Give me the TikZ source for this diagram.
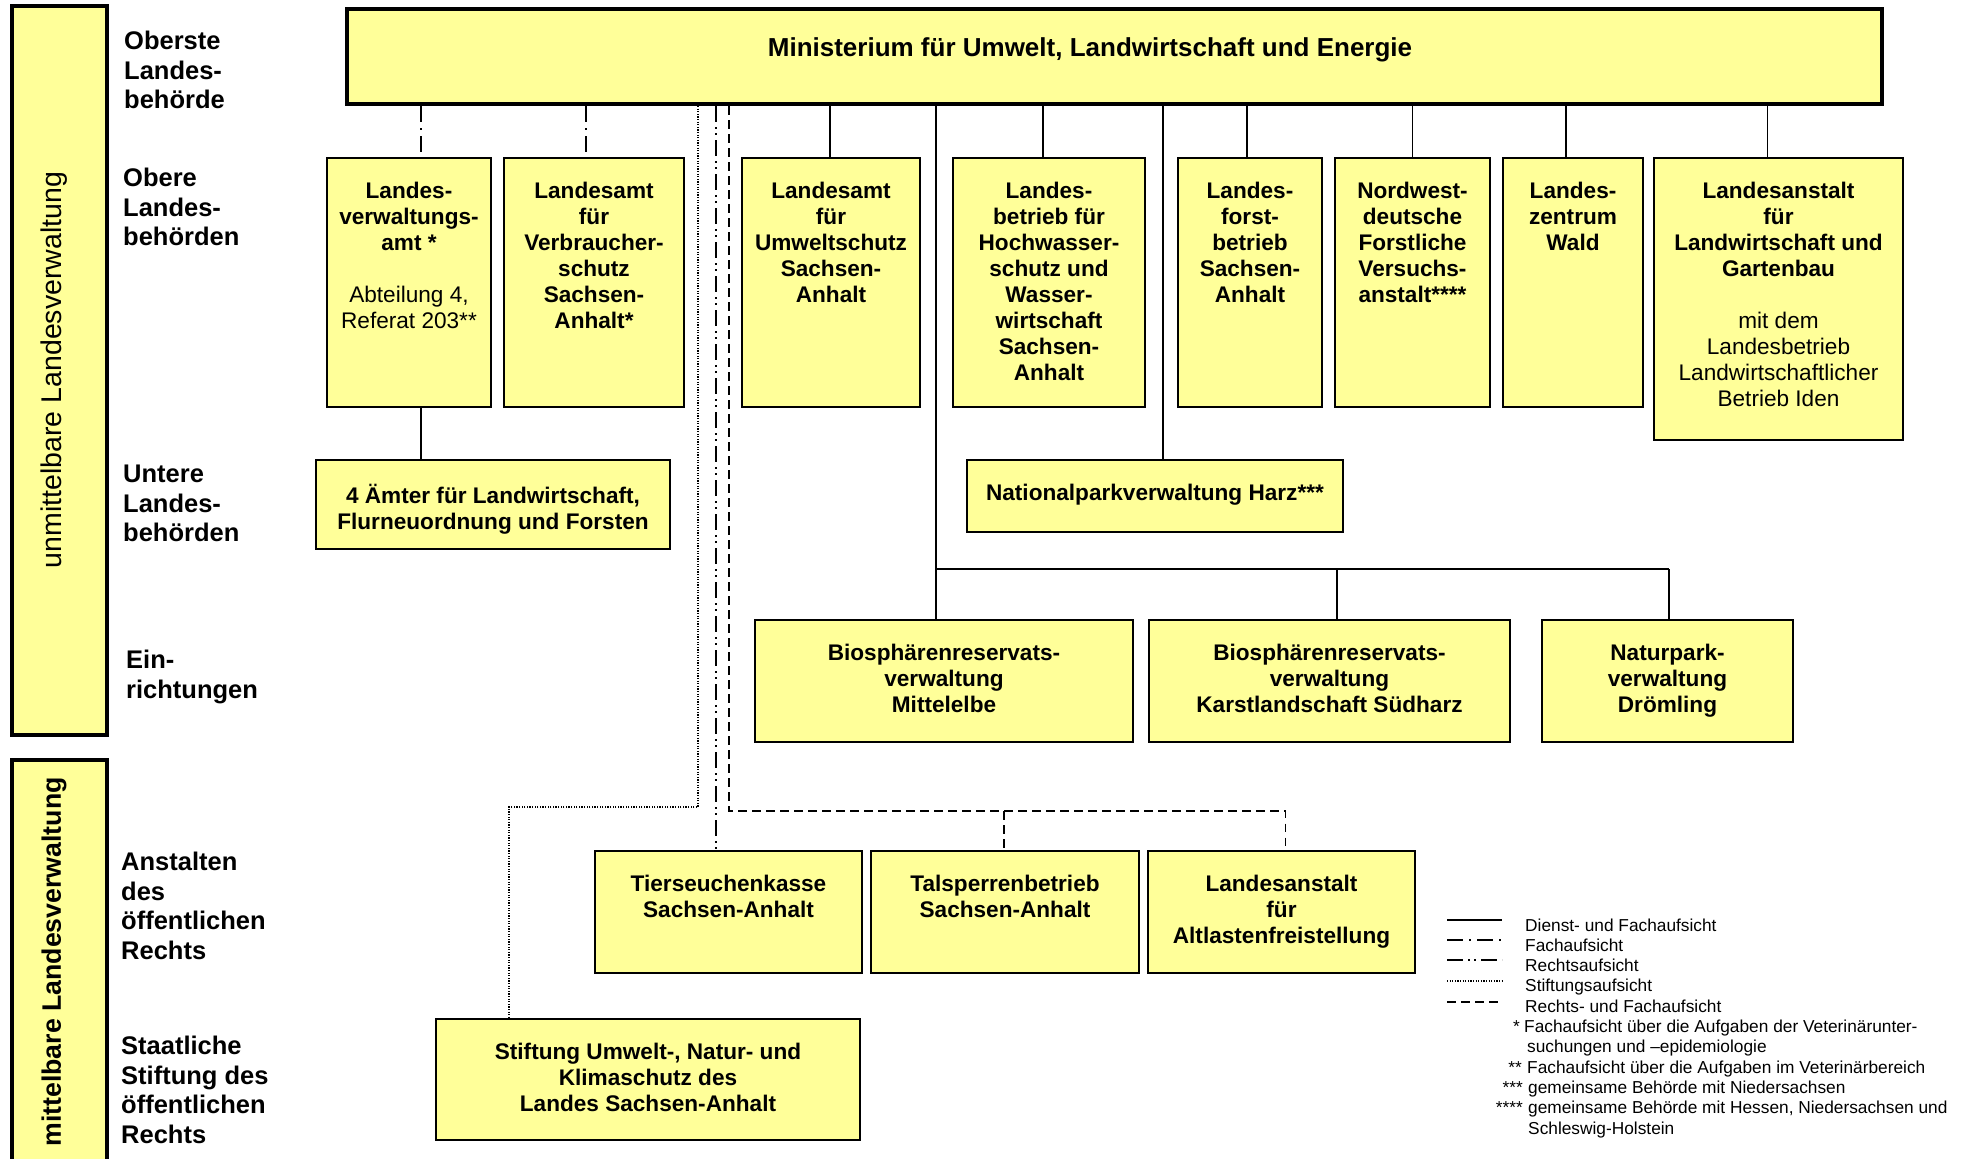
\documentclass[tikz,border=0pt]{standalone}
\usepackage{fontspec}
\setmainfont{Liberation Sans}
\usetikzlibrary{fit,calc}
\definecolor{boxyellow}{HTML}{FFFF99}
\begin{document}
\begin{tikzpicture}[x=1pt,y=-1pt,
  box/.style={draw=black, fill=boxyellow, line width=1.8pt, inner sep=0pt},
  bigbox/.style={draw=black, fill=boxyellow, line width=4pt, inner sep=0pt},
  tx/.style={inner sep=0pt, align=center, anchor=north, font=\fontsize{22.6}{26}\selectfont\bfseries},
  rowlab/.style={inner sep=0pt, align=left, anchor=north west, font=\fontsize{25.5}{29.5}\selectfont\bfseries},
  lgd/.style={inner sep=0pt, anchor=base west, font=\fontsize{17.3}{20}\selectfont},
  lgs/.style={inner sep=0pt, anchor=base east, font=\fontsize{17.3}{20}\selectfont},
  solidc/.style={line width=1.4pt},
  fach/.style={line width=1.4pt, dash pattern=on 16pt off 6pt on 2pt off 6pt},
  recht/.style={line width=1.4pt, dash pattern=on 16pt off 5pt on 2pt off 4pt on 2pt off 5pt},
  stift/.style={line width=1.2pt, dash pattern=on 1.2pt off 1.4pt},
  rf/.style={line width=1.4pt, dash pattern=on 8.5pt off 5.5pt},
]
\path[use as bounding box, fill=white] (0,0) rectangle (1971,1159);

% side bars
\node[bigbox, fit={(12,6) (107,735)}] (unm) {};
\node[rotate=90, inner sep=0pt, font=\fontsize{28.5}{30}\selectfont] (unmT) at (54,370) {unmittelbare Landesverwaltung};
\node[bigbox, fit={(12,760) (107,1180)}] (mit) {};
\node[rotate=90, inner sep=0pt, font=\fontsize{26.7}{30}\selectfont\bfseries] (mitT) at (54,962) {mittelbare Landesverwaltung};

% row labels
\node[rowlab] (r1) at (124,31) {Oberste\\Landes-\\behörde};
\node[rowlab] (r2) at (123,168) {Obere\\Landes-\\behörden};
\node[rowlab] (r3) at (123,465) {Untere\\Landes-\\behörden};
\node[rowlab] (r4) at (126,650) {Ein-\\richtungen};
\node[rowlab] (r5) at (121,852) {Anstalten\\des\\öffentlichen\\Rechts};
\node[rowlab] (r6) at (121,1036) {Staatliche\\Stiftung des\\öffentlichen\\Rechts};

% ministry
\node[bigbox, fit={(347,9) (1882,104)}] (mini) {};
\node[tx, font=\fontsize{26}{30}\selectfont\bfseries] (miniT) at (1090,37) {Ministerium für Umwelt, Landwirtschaft und Energie};

% obere landesbehoerden
\node[box, fit={(327,158) (491,407)}] (lva) {};
\node[tx] (lvaT) at ([yshift=-25pt]lva.north) {Landes-\\verwaltungs-\\amt *\\[26pt]\mdseries Abteilung 4,\\\mdseries Referat 203**};
\node[box, fit={(504,158) (684,407)}] (lav) {};
\node[tx] (lavT) at ([yshift=-25pt]lav.north) {Landesamt\\für\\Verbraucher-\\schutz\\Sachsen-\\Anhalt*};
\node[box, fit={(742,158) (920,407)}] (lau) {};
\node[tx] (lauT) at ([yshift=-25pt]lau.north) {Landesamt\\für\\Umweltschutz\\Sachsen-\\Anhalt};
\node[box, fit={(953,158) (1145,407)}] (lhw) {};
\node[tx] (lhwT) at ([yshift=-25pt]lhw.north) {Landes-\\betrieb für\\Hochwasser-\\schutz und\\Wasser-\\wirtschaft\\Sachsen-\\Anhalt};
\node[box, fit={(1178,158) (1322,407)}] (lfb) {};
\node[tx] (lfbT) at ([yshift=-25pt]lfb.north) {Landes-\\forst-\\betrieb\\Sachsen-\\Anhalt};
\node[box, fit={(1335,158) (1490,407)}] (nwf) {};
\node[tx] (nwfT) at ([yshift=-25pt]nwf.north) {Nordwest-\\deutsche\\Forstliche\\Versuchs-\\anstalt****};
\node[box, fit={(1503,158) (1643,407)}] (lzw) {};
\node[tx] (lzwT) at ([yshift=-25pt]lzw.north) {Landes-\\zentrum\\Wald};
\node[box, fit={(1654,158) (1903,440)}] (llg) {};
\node[tx] (llgT) at ([yshift=-25pt]llg.north) {Landesanstalt\\für\\Landwirtschaft und\\Gartenbau\\[26pt]\mdseries mit dem\\\mdseries Landesbetrieb\\\mdseries Landwirtschaftlicher\\\mdseries Betrieb Iden};

% untere
\node[box, fit={(316,460) (670,549)}] (alf) {};
\node[tx] (alfT) at ([yshift=-25pt]alf.north) {4 Ämter für Landwirtschaft,\\Flurneuordnung und Forsten};
\node[box, fit={(967,460) (1343,532)}] (npv) {};
\node[tx] (npvT) at ([yshift=-25pt]npv.north) {Nationalparkverwaltung Harz***};

% einrichtungen
\node[box, fit={(755,620) (1133,742)}] (bio1) {};
\node[tx] (bio1T) at ([yshift=-25pt]bio1.north) {Biosphärenreservats-\\verwaltung\\Mittelelbe};
\node[box, fit={(1149,620) (1510,742)}] (bio2) {};
\node[tx] (bio2T) at ([yshift=-25pt]bio2.north) {Biosphärenreservats-\\verwaltung\\Karstlandschaft Südharz};
\node[box, fit={(1542,620) (1793,742)}] (npd) {};
\node[tx] (npdT) at ([yshift=-25pt]npd.north) {Naturpark-\\verwaltung\\Drömling};

% anstalten
\node[box, fit={(595,851) (862,973)}] (tsk) {};
\node[tx] (tskT) at ([yshift=-25pt]tsk.north) {Tierseuchenkasse\\Sachsen-Anhalt};
\node[box, fit={(871,851) (1139,973)}] (tsb) {};
\node[tx] (tsbT) at ([yshift=-25pt]tsb.north) {Talsperrenbetrieb\\Sachsen-Anhalt};
\node[box, fit={(1148,851) (1415,973)}] (laf) {};
\node[tx] (lafT) at ([yshift=-25pt]laf.north) {Landesanstalt\\für\\Altlastenfreistellung};

% stiftung
\node[box, fit={(436,1019) (860,1140)}] (sun) {};
\node[tx] (sunT) at ([yshift=-25pt]sun.north) {Stiftung Umwelt-, Natur- und\\Klimaschutz des\\Landes Sachsen-Anhalt};

% connectors: Fachaufsicht
\draw[fach] ([xshift=12pt]lva.north |- mini.south) -- ([xshift=12pt]lva.north);
\draw[fach] ([xshift=-8pt]lav.north |- mini.south) -- ([xshift=-8pt]lav.north);
% Dienst- und Fachaufsicht
\draw[solidc] ([xshift=12pt]lva.south) -- ([xshift=12pt]lva.south |- alf.north);
\draw[solidc] ([xshift=-1pt]lau.north |- mini.south) -- ([xshift=-1pt]lau.north);
\draw[solidc] ([xshift=-6pt]lhw.north |- mini.south) -- ([xshift=-6pt]lhw.north);
\draw[solidc] ([xshift=-3pt]lfb.north |- mini.south) -- ([xshift=-3pt]lfb.north);
\draw[solidc] (nwf.north |- mini.south) -- (nwf.north);
\draw[solidc] ([xshift=-7pt]lzw.north |- mini.south) -- ([xshift=-7pt]lzw.north);
\draw[solidc] ([xshift=-11pt]llg.north |- mini.south) -- ([xshift=-11pt]llg.north);
\draw[solidc] ([xshift=8pt]npv.north |- mini.south) -- ([xshift=8pt]npv.north);
\coordinate (jb) at (936,569);
\coordinate (je) at (1669,569);
\draw[solidc] (jb |- mini.south) -- (jb |- bio1.north);
\draw[solidc, line width=1.8pt] (jb) -- (je);
\draw[solidc] (bio2.north -| 1337,0) -- (jb -| 1337,0);
\draw[solidc] (je) -- (je |- npd.north);
% Stiftungsaufsicht
\coordinate (sa) at (698,807);
\coordinate (sb) at (509,807);
\draw[stift] (sa |- mini.south) -- (sa) -- (sb) -- (sb |- sun.north);
% Rechtsaufsicht
\coordinate (ra) at (716,500);
\draw[recht] (ra |- mini.south) -- (ra |- tsk.north);
% Rechts- und Fachaufsicht
\coordinate (da) at (729,811);
\draw[rf] (da |- mini.south) -- (da) -- ([xshift=4pt]laf.north |- da) -- ([xshift=4pt]laf.north);
\draw[rf] ([xshift=-1pt]tsb.north |- da) -- ([xshift=-1pt]tsb.north);

% legend
\coordinate (l1a) at (1447,920); \coordinate (l1b) at (1502,920);
\coordinate (l2a) at (1447,940); \coordinate (l2b) at (1502,940);
\coordinate (l3a) at (1447,960); \coordinate (l3b) at (1502,960);
\coordinate (l4a) at (1447,981); \coordinate (l4b) at (1502,981);
\coordinate (l5a) at (1447,1002); \coordinate (l5b) at (1502,1002);
\draw[line width=1.8pt] (l1a) -- (l1b);
\draw[line width=1.8pt, dash pattern=on 16pt off 6pt on 2pt off 6pt] (l2a) -- (l2b);
\draw[line width=1.8pt, dash pattern=on 16pt off 5pt on 2pt off 4pt on 2pt off 5pt] (l3a) -- (l3b);
\draw[line width=1.2pt, dash pattern=on 1.2pt off 1.4pt] (l4a) -- (l4b);
\draw[line width=1.6pt, dash pattern=on 8.5pt off 5.5pt] (l5a) -- (l5b);
\node[lgd] (g1) at (1525,931) {Dienst- und Fachaufsicht};
\node[lgd] (g2) at (1525,951.3) {Fachaufsicht};
\node[lgd] (g3) at (1525,971.6) {Rechtsaufsicht};
\node[lgd] (g4) at (1525,991.9) {Stiftungsaufsicht};
\node[lgd] (g5) at (1525,1012.2) {Rechts- und Fachaufsicht};
\node[lgs] (s6) at (1520,1032.5) {*};
\node[lgd] (g6) at (1524,1032.5) {Fachaufsicht über die Aufgaben der Veterinärunter-};
\node[lgd] (g7) at (1527,1052.8) {suchungen und –epidemiologie};
\node[lgs] (s8) at (1522,1073.1) {**};
\node[lgd] (g8) at (1527,1073.1) {Fachaufsicht über die Aufgaben im Veterinärbereich};
\node[lgs] (s9) at (1523,1093.4) {***};
\node[lgd] (g9) at (1528,1093.4) {gemeinsame Behörde mit Niedersachsen};
\node[lgs] (s10) at (1523,1113.7) {****};
\node[lgd] (g10) at (1528,1113.7) {gemeinsame Behörde mit Hessen, Niedersachsen und};
\node[lgd] (g11) at (1528,1134) {Schleswig-Holstein};
\end{tikzpicture}
\end{document}
